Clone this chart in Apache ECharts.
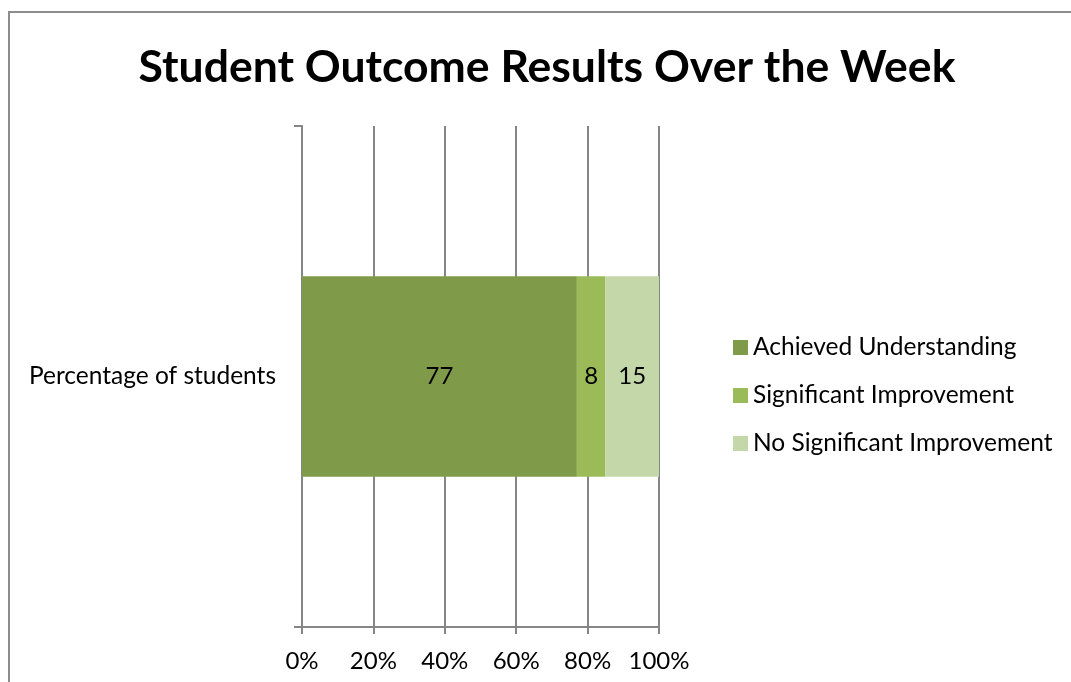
<!DOCTYPE html>
<html>
<head>
<meta charset="utf-8">
<script src="https://cdn.jsdelivr.net/npm/echarts@6/dist/echarts.min.js"></script>
<style>
html,body{margin:0;padding:0;background:#fff;}
#main{width:1071px;height:682px;}
</style>
</head>
<body>
<div id="main"></div>
<script>
const categories = ['Percentage of students'];
const achieved = [77];
const significant = [8];
const noSignificant = [15];
const xTicks = [0, 20, 40, 60, 80, 100];
const seriesNames = ['Achieved Understanding', 'Significant Improvement', 'No Significant Improvement'];
const colors = ['#7f9b4a', '#9bbb59', '#c4d7a9'];

const FONT = 'Lato';
const chart = echarts.init(document.getElementById('main'), null, {renderer: 'canvas'});

function mk(name, data, color) {
  return {
    name: name, type: 'bar', stack: 'total', data: data, barWidth: '40%',
    itemStyle: {color: color},
    label: {show: true, position: 'inside', color: '#000', fontFamily: FONT, fontSize: 24},
    emphasis: {disabled: true}
  };
}

chart.setOption({
  animation: false,
  backgroundColor: '#fff',
  title: {
    text: 'Student Outcome Results Over the Week',
    left: 542, top: 40, textAlign: 'center',
    textStyle: {fontFamily: FONT, fontWeight: 'bold', fontSize: 44.5, color: '#000'}
  },
  graphic: [{
    type: 'rect', shape: {x: 9, y: 12, width: 1080, height: 700},
    style: {fill: 'none', stroke: '#8c8c8c', lineWidth: 2}, silent: true
  }],
  legend: {
    orient: 'vertical', left: 733, top: 335, padding: 0, itemGap: 23, itemWidth: 15, itemHeight: 15,
    icon: 'rect',
    textStyle: {fontFamily: FONT, fontSize: 24.5, color: '#000'},
    data: seriesNames
  },
  grid: {left: 302, right: 412, top: 126, bottom: 55, containLabel: false},
  xAxis: {
    type: 'value', min: 0, max: 100, interval: 20,
    axisLine: {show: true, lineStyle: {color: '#868686', width: 2}},
    axisTick: {show: true, length: 7, lineStyle: {color: '#868686', width: 2}},
    splitLine: {show: true, lineStyle: {color: '#868686', width: 2}},
    axisLabel: {formatter: function(v){ return v + '%'; }, fontFamily: FONT, fontSize: 24, color: '#000', margin: 22},
    data: xTicks
  },
  yAxis: {
    type: 'category', data: categories,
    axisLine: {show: true, lineStyle: {color: '#868686', width: 2}},
    axisTick: {show: true, length: 8, lineStyle: {color: '#868686', width: 2}},
    axisLabel: {fontFamily: FONT, fontSize: 24.5, color: '#000', margin: 26}
  },
  series: [
    mk(seriesNames[0], achieved, colors[0]),
    mk(seriesNames[1], significant, colors[1]),
    mk(seriesNames[2], noSignificant, colors[2])
  ]
});
</script>
</body>
</html>
